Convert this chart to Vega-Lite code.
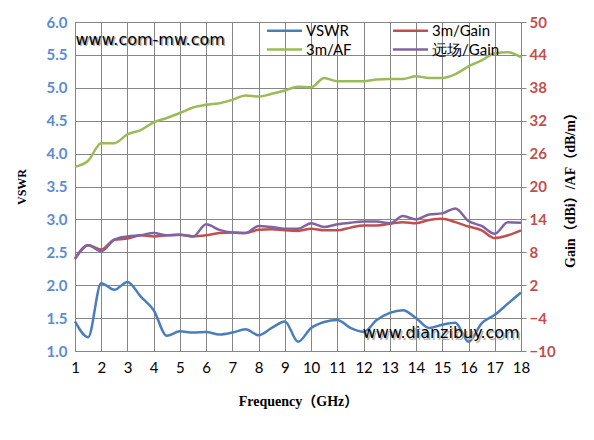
{
  "$schema": "https://vega.github.io/schema/vega-lite/v6.json",
  "width": 446,
  "height": 329,
  "autosize": {"type": "none"},
  "padding": {"left": 75, "top": 22, "right": 73, "bottom": 89},
  "background": "white",
  "config": {
    "view": {"stroke": null},
    "axis": {
      "domainColor": "#868686",
      "tickColor": "#868686",
      "gridColor": "#868686",
      "gridWidth": 1,
      "tickSize": 5,
      "labelFont": "Lato",
      "labelFontSize": 15,
      "labelOverlap": false,
      "labelFlush": false,
      "titleFont": "Liberation Serif, Noto Sans CJK SC",
      "titleFontWeight": "bold",
      "titleColor": "black"
    },
    "legend": {
      "orient": "none",
      "legendX": 202,
      "legendY": 1,
      "columns": 2,
      "symbolType": "M-3,0H3",
      "symbolSize": 136,
      "symbolStrokeWidth": 2.5,
      "labelFont": "Lato",
      "labelFontSize": 15,
      "labelColor": "black",
      "labelOffset": 14,
      "columnPadding": 36,
      "rowPadding": 3
    }
  },
  "datasets": {
    "vswr": [
      {"f": 1, "v": 1.45}, {"f": 1.5, "v": 1.21}, {"f": 2, "v": 2.03}, {"f": 2.5, "v": 1.93},
      {"f": 3, "v": 2.05}, {"f": 3.5, "v": 1.83}, {"f": 4, "v": 1.62}, {"f": 4.5, "v": 1.23},
      {"f": 5, "v": 1.30}, {"f": 5.5, "v": 1.28}, {"f": 6, "v": 1.29}, {"f": 6.5, "v": 1.25},
      {"f": 7, "v": 1.28}, {"f": 7.5, "v": 1.33}, {"f": 8, "v": 1.24}, {"f": 8.5, "v": 1.35},
      {"f": 9, "v": 1.45}, {"f": 9.5, "v": 1.14}, {"f": 10, "v": 1.35}, {"f": 10.5, "v": 1.44},
      {"f": 11, "v": 1.47}, {"f": 11.5, "v": 1.35}, {"f": 12, "v": 1.29}, {"f": 12.5, "v": 1.47},
      {"f": 13, "v": 1.58}, {"f": 13.5, "v": 1.62}, {"f": 14, "v": 1.50}, {"f": 14.5, "v": 1.35},
      {"f": 15, "v": 1.40}, {"f": 15.5, "v": 1.43}, {"f": 16, "v": 1.14}, {"f": 16.5, "v": 1.42},
      {"f": 17, "v": 1.55}, {"f": 17.5, "v": 1.72}, {"f": 18, "v": 1.89}
    ],
    "notes": [
      {"label": "www.com-mw.com"},
      {"label": "www.dianzibuy.com"}
    ],
    "gain": [
      {"series": "3m/Gain", "f": 1, "g": 6.8}, {"series": "3m/Gain", "f": 1.5, "g": 9.3},
      {"series": "3m/Gain", "f": 2, "g": 8.5}, {"series": "3m/Gain", "f": 2.5, "g": 10.3},
      {"series": "3m/Gain", "f": 3, "g": 10.5}, {"series": "3m/Gain", "f": 3.5, "g": 11.1},
      {"series": "3m/Gain", "f": 4, "g": 10.9}, {"series": "3m/Gain", "f": 4.5, "g": 11.1},
      {"series": "3m/Gain", "f": 5, "g": 11.2}, {"series": "3m/Gain", "f": 5.5, "g": 10.9},
      {"series": "3m/Gain", "f": 6, "g": 11.1}, {"series": "3m/Gain", "f": 6.5, "g": 11.5},
      {"series": "3m/Gain", "f": 7, "g": 11.6}, {"series": "3m/Gain", "f": 7.5, "g": 11.5},
      {"series": "3m/Gain", "f": 8, "g": 12.1}, {"series": "3m/Gain", "f": 8.5, "g": 12.2},
      {"series": "3m/Gain", "f": 9, "g": 12.0}, {"series": "3m/Gain", "f": 9.5, "g": 11.9},
      {"series": "3m/Gain", "f": 10, "g": 12.3}, {"series": "3m/Gain", "f": 10.5, "g": 12.0},
      {"series": "3m/Gain", "f": 11, "g": 12.0}, {"series": "3m/Gain", "f": 11.5, "g": 12.5},
      {"series": "3m/Gain", "f": 12, "g": 12.9}, {"series": "3m/Gain", "f": 12.5, "g": 12.9},
      {"series": "3m/Gain", "f": 13, "g": 13.2}, {"series": "3m/Gain", "f": 13.5, "g": 13.5},
      {"series": "3m/Gain", "f": 14, "g": 13.3}, {"series": "3m/Gain", "f": 14.5, "g": 13.9},
      {"series": "3m/Gain", "f": 15, "g": 14.1}, {"series": "3m/Gain", "f": 15.5, "g": 13.5},
      {"series": "3m/Gain", "f": 16, "g": 12.7}, {"series": "3m/Gain", "f": 16.5, "g": 12.0},
      {"series": "3m/Gain", "f": 17, "g": 10.6}, {"series": "3m/Gain", "f": 17.5, "g": 11.1},
      {"series": "3m/Gain", "f": 18, "g": 12.0},
      {"series": "3m/AF", "f": 1, "g": 23.6}, {"series": "3m/AF", "f": 1.5, "g": 24.7},
      {"series": "3m/AF", "f": 2, "g": 27.9}, {"series": "3m/AF", "f": 2.5, "g": 27.9},
      {"series": "3m/AF", "f": 3, "g": 29.5}, {"series": "3m/AF", "f": 3.5, "g": 30.3},
      {"series": "3m/AF", "f": 4, "g": 31.7}, {"series": "3m/AF", "f": 4.5, "g": 32.5},
      {"series": "3m/AF", "f": 5, "g": 33.4}, {"series": "3m/AF", "f": 5.5, "g": 34.4},
      {"series": "3m/AF", "f": 6, "g": 34.9}, {"series": "3m/AF", "f": 6.5, "g": 35.2},
      {"series": "3m/AF", "f": 7, "g": 35.8}, {"series": "3m/AF", "f": 7.5, "g": 36.6},
      {"series": "3m/AF", "f": 8, "g": 36.4}, {"series": "3m/AF", "f": 8.5, "g": 36.9},
      {"series": "3m/AF", "f": 9, "g": 37.5}, {"series": "3m/AF", "f": 9.5, "g": 38.2},
      {"series": "3m/AF", "f": 10, "g": 38.1}, {"series": "3m/AF", "f": 10.5, "g": 39.8},
      {"series": "3m/AF", "f": 11, "g": 39.2}, {"series": "3m/AF", "f": 11.5, "g": 39.2},
      {"series": "3m/AF", "f": 12, "g": 39.2}, {"series": "3m/AF", "f": 12.5, "g": 39.5},
      {"series": "3m/AF", "f": 13, "g": 39.6}, {"series": "3m/AF", "f": 13.5, "g": 39.6},
      {"series": "3m/AF", "f": 14, "g": 40.1}, {"series": "3m/AF", "f": 14.5, "g": 39.8},
      {"series": "3m/AF", "f": 15, "g": 39.8}, {"series": "3m/AF", "f": 15.5, "g": 40.5},
      {"series": "3m/AF", "f": 16, "g": 41.9}, {"series": "3m/AF", "f": 16.5, "g": 43.0},
      {"series": "3m/AF", "f": 17, "g": 44.3}, {"series": "3m/AF", "f": 17.5, "g": 44.5},
      {"series": "3m/AF", "f": 18, "g": 43.6},
      {"series": "远场/Gain", "f": 1, "g": 6.8}, {"series": "远场/Gain", "f": 1.5, "g": 9.3},
      {"series": "远场/Gain", "f": 2, "g": 8.2}, {"series": "远场/Gain", "f": 2.5, "g": 10.3},
      {"series": "远场/Gain", "f": 3, "g": 10.9}, {"series": "远场/Gain", "f": 3.5, "g": 11.1},
      {"series": "远场/Gain", "f": 4, "g": 11.5}, {"series": "远场/Gain", "f": 4.5, "g": 11.1},
      {"series": "远场/Gain", "f": 5, "g": 11.2}, {"series": "远场/Gain", "f": 5.5, "g": 10.9},
      {"series": "远场/Gain", "f": 6, "g": 13.1}, {"series": "远场/Gain", "f": 6.5, "g": 12.1},
      {"series": "远场/Gain", "f": 7, "g": 11.6}, {"series": "远场/Gain", "f": 7.5, "g": 11.5},
      {"series": "远场/Gain", "f": 8, "g": 12.8}, {"series": "远场/Gain", "f": 8.5, "g": 12.6},
      {"series": "远场/Gain", "f": 9, "g": 12.3}, {"series": "远场/Gain", "f": 9.5, "g": 12.3},
      {"series": "远场/Gain", "f": 10, "g": 13.3}, {"series": "远场/Gain", "f": 10.5, "g": 12.6},
      {"series": "远场/Gain", "f": 11, "g": 13.1}, {"series": "远场/Gain", "f": 11.5, "g": 13.4},
      {"series": "远场/Gain", "f": 12, "g": 13.6}, {"series": "远场/Gain", "f": 12.5, "g": 13.6},
      {"series": "远场/Gain", "f": 13, "g": 13.3}, {"series": "远场/Gain", "f": 13.5, "g": 14.6},
      {"series": "远场/Gain", "f": 14, "g": 14.0}, {"series": "远场/Gain", "f": 14.5, "g": 14.9},
      {"series": "远场/Gain", "f": 15, "g": 15.1}, {"series": "远场/Gain", "f": 15.5, "g": 16.0},
      {"series": "远场/Gain", "f": 16, "g": 13.7}, {"series": "远场/Gain", "f": 16.5, "g": 12.8},
      {"series": "远场/Gain", "f": 17, "g": 11.4}, {"series": "远场/Gain", "f": 17.5, "g": 13.5},
      {"series": "远场/Gain", "f": 18, "g": 13.4}
    ]
  },
  "layer": [
    {
      "layer": [
        {
          "data": {"name": "vswr"},
          "mark": {"type": "line", "interpolate": "monotone", "strokeWidth": 2.5},
          "encoding": {
            "x": {
              "field": "f", "type": "quantitative",
              "scale": {"domain": [1, 18], "nice": false, "zero": false},
              "axis": {
                "values": [1,2,3,4,5,6,7,8,9,10,11,12,13,14,15,16,17,18],
                "title": "Frequency（GHz）",
                "titleFontSize": 14,
                "titlePadding": 19,
                "labelColor": "black",
                "labelPadding": 338,
                "tickSize": -329,
                "grid": true
              }
            },
            "y": {
              "field": "v", "type": "quantitative",
              "scale": {"domain": [1, 6], "nice": false, "zero": false},
              "axis": {
                "values": [1,1.5,2,2.5,3,3.5,4,4.5,5,5.5,6],
                "format": ".1f",
                "title": "VSWR",
                "titleFontSize": 12,
                "titlePadding": 18,
                "labelColor": "#5B8BD2",
                "labelFontWeight": "bold",
                "labelPadding": 454,
                "tickSize": -446,
                "grid": true
              }
            },
            "color": {
              "datum": "VSWR",
              "scale": {
                "domain": ["VSWR", "3m/AF", "3m/Gain", "远场/Gain"],
                "range": ["#4A7EBB", "#9BBB59", "#C0504D", "#8064A2"]
              },
              "legend": {"title": null}
            }
          }
        },
        {
          "data": {"name": "notes"},
          "transform": [{"filter": "datum.label == 'www.com-mw.com'"}],
          "layer": [
            {"mark": {"type": "text", "align": "left", "baseline": "middle", "font": "DejaVu Sans", "fontSize": 16, "color": "#b0b0b0", "dx": 1.5, "dy": 1.5}},
            {"mark": {"type": "text", "align": "left", "baseline": "middle", "font": "DejaVu Sans", "fontSize": 16, "color": "black"}}
          ],
          "encoding": {
            "x": {
              "datum": 1.02, "type": "quantitative",
              "axis": {
                "values": [1,2,3,4,5,6,7,8,9,10,11,12,13,14,15,16,17,18],
                "title": "Frequency（GHz）",
                "titleFontSize": 14,
                "titlePadding": 19,
                "labelColor": "black",
                "labelPadding": 338,
                "tickSize": -329,
                "grid": true
              }
            },
            "y": {
              "datum": 5.73, "type": "quantitative",
              "axis": {
                "values": [1,1.5,2,2.5,3,3.5,4,4.5,5,5.5,6],
                "format": ".1f",
                "title": "VSWR",
                "titleFontSize": 12,
                "titlePadding": 18,
                "labelColor": "#5B8BD2",
                "labelFontWeight": "bold",
                "labelPadding": 454,
                "tickSize": -446,
                "grid": true
              }
            },
            "text": {"field": "label"}
          }
        },
        {
          "data": {"name": "notes"},
          "transform": [{"filter": "datum.label == 'www.dianzibuy.com'"}],
          "layer": [
            {"mark": {"type": "text", "align": "right", "baseline": "middle", "font": "DejaVu Sans", "fontSize": 16, "color": "#b0b0b0", "dx": 1.5, "dy": 1.5}},
            {"mark": {"type": "text", "align": "right", "baseline": "middle", "font": "DejaVu Sans", "fontSize": 16, "color": "black"}}
          ],
          "encoding": {
            "x": {
              "datum": 17.95, "type": "quantitative",
              "axis": {
                "values": [1,2,3,4,5,6,7,8,9,10,11,12,13,14,15,16,17,18],
                "title": "Frequency（GHz）",
                "titleFontSize": 14,
                "titlePadding": 19,
                "labelColor": "black",
                "labelPadding": 338,
                "tickSize": -329,
                "grid": true
              }
            },
            "y": {
              "datum": 1.27, "type": "quantitative",
              "axis": {
                "values": [1,1.5,2,2.5,3,3.5,4,4.5,5,5.5,6],
                "format": ".1f",
                "title": "VSWR",
                "titleFontSize": 12,
                "titlePadding": 18,
                "labelColor": "#5B8BD2",
                "labelFontWeight": "bold",
                "labelPadding": 454,
                "tickSize": -446,
                "grid": true
              }
            },
            "text": {"field": "label"}
          }
        }
      ]
    },
    {
      "data": {"name": "gain"},
      "mark": {"type": "line", "interpolate": "monotone", "strokeWidth": 2.5},
      "encoding": {
        "x": {
          "field": "f", "type": "quantitative",
          "axis": {
            "values": [1,2,3,4,5,6,7,8,9,10,11,12,13,14,15,16,17,18],
            "title": "Frequency（GHz）",
            "titleFontSize": 14,
            "titlePadding": 19,
            "labelColor": "black",
            "labelPadding": 338,
            "tickSize": -329,
            "grid": true
          }
        },
        "y": {
          "field": "g", "type": "quantitative",
          "scale": {"domain": [-10, 50], "nice": false, "zero": false},
          "axis": {
            "orient": "right",
            "values": [-10,-4,2,8,14,20,26,32,38,44,50],
            "title": "Gain（dBi）/AF（dB/m）",
            "titleAngle": 270,
            "titleFontSize": 14,
            "titlePadding": 22,
            "labelColor": "#C0504D",
            "labelFontWeight": "bold",
            "labelPadding": 3,
            "grid": false
          }
        },
        "color": {"field": "series", "type": "nominal", "legend": {"title": null}}
      }
    }
  ],
  "resolve": {"scale": {"y": "independent"}}
}
